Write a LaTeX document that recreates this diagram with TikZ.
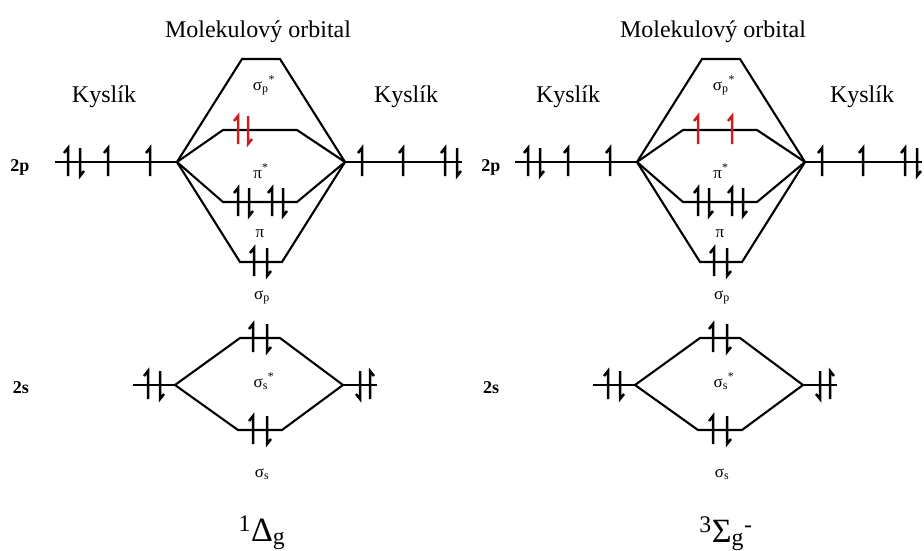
\documentclass[tikz,border=0pt]{standalone}
\usepackage{fontspec}
\setmainfont{Liberation Serif}
\definecolor{spinred}{RGB}{205,30,30}
\tikzset{
  level/.style={line width=2.1pt, line join=miter},
  spinline/.style={line width=2.5pt, line join=miter},
  lbl/.style={inner sep=0pt, anchor=base, font=\fontsize{17}{19}\selectfont},
  bigtxt/.style={inner sep=0pt, anchor=base, font=\fontsize{24}{28}\selectfont},
  tagtxt/.style={inner sep=0pt, anchor=base, font=\fontsize{18}{20}\selectfont\bfseries},
  termtxt/.style={inner sep=0pt, anchor=base, font=\fontsize{34}{38}\selectfont},
  spinup/.pic={\draw[spinline] (0,14) -- (0,-14) -- (-4,-9);},
  spindown/.pic={\draw[spinline] (0,-14) -- (0,14) -- (4,9);},
  spinupr/.pic={\draw[spinline] (0,14) -- (0,-14) -- (4,-9);},
  spindownl/.pic={\draw[spinline] (0,-14) -- (0,14) -- (-4,9);}
}
\newcommand\MOdiagram[1]{%
  \coordinate (#1L) at (177,162);
  \coordinate (#1R) at (345,162);
  \coordinate (#1pa) at (55,162);
  \coordinate (#1pb) at (462,162);
  \coordinate (#1sa) at (242,59);
  \coordinate (#1sb) at (280,59);
  \coordinate (#1ta) at (223,130);
  \coordinate (#1tb) at (297,130);
  \coordinate (#1ua) at (223,202);
  \coordinate (#1ub) at (297,202);
  \coordinate (#1va) at (240,262);
  \coordinate (#1vb) at (282,262);
  \coordinate (#1Ls) at (175,385);
  \coordinate (#1Rs) at (343,385);
  \coordinate (#1qa) at (133,385);
  \coordinate (#1qb) at (377,385);
  \coordinate (#1wa) at (240,338);
  \coordinate (#1wb) at (280,338);
  \coordinate (#1xa) at (238,430);
  \coordinate (#1xb) at (282,430);
  % 2p levels
  \draw[level] (#1pa) -- (#1L);
  \draw[level] (#1R) -- (#1pb);
  \draw[level] (#1L) -- (#1sa) -- (#1sb) -- (#1R);
  \draw[level] (#1L) -- (#1ta) -- (#1tb) -- (#1R);
  \draw[level] (#1L) -- (#1ua) -- (#1ub) -- (#1R);
  \draw[level] (#1L) -- (#1va) -- (#1vb) -- (#1R);
  % 2s levels
  \draw[level] (#1qa) -- (#1Ls);
  \draw[level] (#1Rs) -- (#1qb);
  \draw[level] (#1Ls) -- (#1wa) -- (#1wb) -- (#1Rs);
  \draw[level] (#1Ls) -- (#1xa) -- (#1xb) -- (#1Rs);
  % atomic 2p electrons
  \pic at (68,162) {spinup};
  \pic at (80,162) {spindown};
  \pic at (108,162) {spinup};
  \pic at (150,162) {spinup};
  \pic at (362,162) {spinup};
  \pic at (403,162) {spinup};
  \pic at (445,162) {spinup};
  \pic at (457,162) {spindown};
  % pi bonding
  \pic at (238,202) {spinup};
  \pic at (249,202) {spindown};
  \pic at (272,202) {spinup};
  \pic at (283,202) {spindown};
  % sigma p
  \pic at (254,262) {spinup};
  \pic at (267,262) {spindown};
  % 2s atomic
  \pic at (148,385) {spinup};
  \pic at (160,385) {spindown};
  \pic at (360,385) {spindownl};
  \pic at (370,385) {spinupr};
  % sigma s* and sigma s
  \pic at (253,338) {spinup};
  \pic at (267,338) {spindown};
  \pic at (253,430) {spinup};
  \pic at (267,430) {spindown};
  % labels
  \node[lbl] (#1lsps) at (264,90) {σ\textsubscript{p}\textsuperscript{*}};
  \node[lbl] (#1lpis) at (261,178) {π\textsuperscript{*}};
  \node[lbl] (#1lpi) at (260,237) {π};
  \node[lbl] (#1lsp) at (262,299) {σ\textsubscript{p}};
  \node[lbl] (#1lsss) at (264,387) {σ\textsubscript{s}\textsuperscript{*}};
  \node[lbl] (#1lss) at (262,477) {σ\textsubscript{s}};
}
\begin{document}
\begin{tikzpicture}[x=1pt, y=-1pt]
  \useasboundingbox (0,0) rectangle (924,550);
  \fill[white] (0,0) rectangle (924,550);
  % left diagram
  \MOdiagram{a}
  \pic[color=spinred] at (238,130) {spinup};
  \pic[color=spinred] at (248,130) {spindown};
  \node[bigtxt] (amo) at (258,37) {Molekulový orbital};
  \node[bigtxt] (aky1) at (104,102) {Kyslík};
  \node[bigtxt] (aky2) at (406,102) {Kyslík};
  \node[tagtxt] (a2p) at (20,171) {2p};
  \node[tagtxt] (a2s) at (21,393) {2s};
  \node[termtxt] (aterm) at (262,541) {\textsuperscript{1}Δ\textsubscript{g}};
  % right diagram
  \begin{scope}[xshift=460pt]
    \MOdiagram{b}
    \pic[color=spinred] at (238,130) {spinup};
    \pic[color=spinred] at (272,130) {spinup};
  \end{scope}
  \node[bigtxt] (bmo) at (713,37) {Molekulový orbital};
  \node[bigtxt] (bky1) at (568,102) {Kyslík};
  \node[bigtxt] (bky2) at (862,102) {Kyslík};
  \node[tagtxt] (b2p) at (491,171) {2p};
  \node[tagtxt] (b2s) at (491,393) {2s};
  \node[termtxt] (bterm) at (726,542) {\textsuperscript{3}Σ\textsubscript{g}\textsuperscript{-}};
\end{tikzpicture}
\end{document}
